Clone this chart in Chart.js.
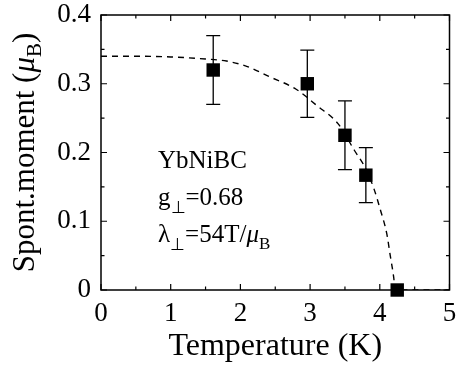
<!DOCTYPE html>
<html>
<head>
<meta charset="utf-8">
<script src="https://cdn.jsdelivr.net/npm/chart.js@4"></script>
<style>
  html, body { margin: 0; padding: 0; background: #fff; }
</style>
</head>
<body>
<canvas id="moment-chart" width="459" height="370"></canvas>
<script>
// measured points
const temps = [1.61, 2.96, 3.50, 3.80, 4.25];
const moments = [0.320, 0.300, 0.225, 0.167, 0.0];
const errors = [0.050, 0.049, 0.050, 0.040, 0];

// dashed mean-field curve
const fitTemps = [0, 0.5, 1.0, 1.5, 1.8, 2.1, 2.4, 2.8, 3.1, 3.4, 3.63, 3.8, 3.92, 4.01, 4.10, 4.15, 4.20, 4.22, 5.0];
const fitMoments = [0.340, 0.340, 0.339, 0.336, 0.333, 0.325, 0.311, 0.292, 0.268, 0.242, 0.204, 0.176, 0.146, 0.116, 0.082, 0.050, 0.018, 0, 0];

const xTicks = [0, 1, 2, 3, 4, 5];
const yTicks = [0, 0.1, 0.2, 0.3, 0.4];

const FONT = "'Liberation Serif', 'Times New Roman', serif";

function drawRich(ctx, parts, x, y) {
    let cx = x;
    parts.forEach(p => {
        ctx.font = (p.style || '') + ' ' + p.size + 'px ' + FONT;
        ctx.fillText(p.text, cx, y + (p.dy || 0));
        cx += ctx.measureText(p.text).width;
    });
    return cx - x;
}

function richWidth(ctx, parts) {
    let w = 0;
    parts.forEach(p => {
        ctx.font = (p.style || '') + ' ' + p.size + 'px ' + FONT;
        w += ctx.measureText(p.text).width;
    });
    return w;
}

const errorBars = {
    id: 'errorBars',
    beforeDatasetsDraw(chart) {
        const ctx = chart.ctx;
        const xs = chart.scales.x, ys = chart.scales.y;
        ctx.save();
        ctx.strokeStyle = '#000';
        ctx.lineWidth = 1.3;
        temps.forEach((t, i) => {
            if (!errors[i]) return;
            const px = xs.getPixelForValue(t);
            const hi = ys.getPixelForValue(moments[i] + errors[i]);
            const lo = ys.getPixelForValue(moments[i] - errors[i]);
            ctx.beginPath();
            ctx.moveTo(px, hi); ctx.lineTo(px, lo);
            ctx.moveTo(px - 7, hi); ctx.lineTo(px + 7, hi);
            ctx.moveTo(px - 7, lo); ctx.lineTo(px + 7, lo);
            ctx.stroke();
        });
        ctx.restore();
    }
};

const frame = {
    id: 'frame',
    afterDraw(chart) {
        const ctx = chart.ctx;
        const {left, right, top, bottom} = chart.chartArea;
        const xs = chart.scales.x, ys = chart.scales.y;
        ctx.save();
        ctx.strokeStyle = '#000';
        ctx.lineWidth = 1.5;
        ctx.strokeRect(left, top, right - left, bottom - top);

        // ticks pointing inwards, on all four sides
        ctx.lineWidth = 1.2;
        ctx.beginPath();
        for (let k = 0; k <= 10; k++) {
            const v = k * 0.5;
            const len = k % 2 === 0 ? 6 : 3.5;
            const px = xs.getPixelForValue(v);
            ctx.moveTo(px, bottom); ctx.lineTo(px, bottom - len);
            ctx.moveTo(px, top); ctx.lineTo(px, top + len);
        }
        for (let k = 0; k <= 8; k++) {
            const v = k * 0.05;
            const len = k % 2 === 0 ? 6 : 3.5;
            const py = ys.getPixelForValue(v);
            ctx.moveTo(left, py); ctx.lineTo(left + len, py);
            ctx.moveTo(right, py); ctx.lineTo(right - len, py);
        }
        ctx.stroke();

        // y title with subscript
        ctx.fillStyle = '#000';
        ctx.textBaseline = 'alphabetic';
        ctx.textAlign = 'left';
        const title = [
            {text: 'Spont.moment (', size: 31},
            {text: '\u03bc', size: 31, style: 'italic'},
            {text: 'B', size: 21, dy: 7},
            {text: ')', size: 31}
        ];
        const tw = richWidth(ctx, title);
        ctx.save();
        ctx.translate(34, (top + bottom) / 2);
        ctx.rotate(-Math.PI / 2);
        drawRich(ctx, title, -tw / 2, 0);
        ctx.restore();

        // annotation
        const ax = left + 57;
        drawRich(ctx, [{text: 'YbNiBC', size: 25}], ax, 168);
        drawRich(ctx, [
            {text: 'g', size: 25},
            {text: '\u22a5', size: 17, dy: 8},
            {text: '=0.68', size: 25}
        ], ax, 205);
        drawRich(ctx, [
            {text: '\u03bb', size: 25},
            {text: '\u22a5', size: 17, dy: 8},
            {text: '=54T/', size: 25},
            {text: '\u03bc', size: 25, style: 'italic'},
            {text: 'B', size: 17, dy: 7}
        ], ax, 242);
        ctx.restore();
    }
};

new Chart(document.getElementById('moment-chart'), {
    type: 'scatter',
    data: {
        datasets: [{
            label: 'Spont. moment',
            data: temps.map((t, i) => ({x: t, y: moments[i]})),
            pointStyle: 'rect',
            pointRadius: 9.5,
            pointHoverRadius: 9.5,
            backgroundColor: '#000',
            borderColor: '#000',
            borderWidth: 0,
            clip: false,
            order: 0
        }, {
            label: 'Mean field',
            type: 'line',
            data: fitTemps.map((t, i) => ({x: t, y: fitMoments[i]})),
            borderColor: '#000',
            borderWidth: 1.4,
            borderDash: [6, 5],
            pointRadius: 0,
            fill: false,
            cubicInterpolationMode: 'monotone',
            order: 1
        }]
    },
    options: {
        responsive: false,
        animation: false,
        devicePixelRatio: 1,
        layout: {
            padding: { top: 15, right: 6, left: 0, bottom: 0 }
        },
        plugins: {
            legend: { display: false },
            tooltip: { enabled: false }
        },
        scales: {
            x: {
                type: 'linear',
                min: 0,
                max: 5,
                afterBuildTicks: s => { s.ticks = xTicks.map(v => ({value: v})); },
                ticks: {
                    color: '#000',
                    font: { family: FONT, size: 27 },
                    padding: 8,
                    maxRotation: 0
                },
                grid: { display: false, drawTicks: false },
                border: { display: false },
                title: {
                    display: true,
                    text: 'Temperature (K)',
                    color: '#000',
                    font: { family: FONT, size: 32 },
                    padding: { top: 0, bottom: 4 }
                },
                afterFit: s => {
                    s.height = 80;
                    s.paddingLeft = 0;
                    s.paddingRight = 0;
                }
            },
            y: {
                type: 'linear',
                min: 0,
                max: 0.4,
                afterBuildTicks: s => { s.ticks = yTicks.map(v => ({value: v})); },
                ticks: {
                    color: '#000',
                    font: { family: FONT, size: 27 },
                    padding: 10,
                    callback: v => String(Math.round(v * 10) / 10)
                },
                grid: { display: false, drawTicks: false },
                border: { display: false },
                afterFit: s => {
                    s.width = 101;
                    s.paddingTop = 0;
                    s.paddingBottom = 0;
                }
            }
        }
    },
    plugins: [errorBars, frame]
});
</script>
</body>
</html>
